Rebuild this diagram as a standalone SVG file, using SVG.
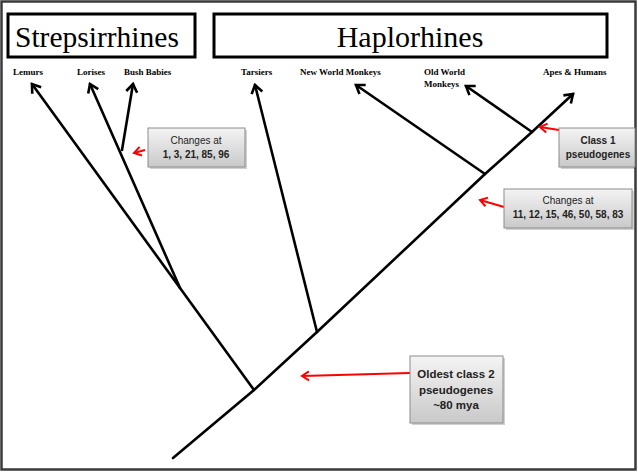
<svg xmlns="http://www.w3.org/2000/svg" width="638" height="472" viewBox="0 0 638 472">
<style>
.title{font-family:"Liberation Serif",serif;font-size:30px;fill:#000}
.leaf{font-family:"Liberation Serif",serif;font-size:9px;font-weight:bold;fill:#000}
.box{fill:none;stroke:#000;stroke-width:3}
.br{stroke:#000;stroke-width:2.6;fill:none;stroke-linecap:round}
.red{stroke:#f00;stroke-width:2;fill:none}
.cb{fill:url(#g);stroke:#8c8c8c;stroke-width:1}
.sh{fill:#000;opacity:0.18}
.ct{font-family:"Liberation Sans",Arial,sans-serif;font-size:10px;fill:#222;text-anchor:middle}
.cbold{font-weight:bold}
</style>
<defs>
<marker id="ah" markerWidth="14" markerHeight="14" refX="0" refY="0" viewBox="-10 -7 12 14" orient="auto" markerUnits="userSpaceOnUse">
<path d="M-8,-5.5 L0,0 L-8,5.5" fill="none" stroke="#000" stroke-width="2.6"/>
</marker>
<marker id="rh" markerWidth="12" markerHeight="12" refX="0" refY="0" viewBox="-9 -6 11 12" orient="auto" markerUnits="userSpaceOnUse">
<path d="M-7,-4.5 L0,0 L-7,4.5" fill="none" stroke="#f00" stroke-width="2"/>
</marker>
<linearGradient id="g" x1="0" y1="0" x2="0" y2="1">
<stop offset="0" stop-color="#f4f4f4"/>
<stop offset="1" stop-color="#c9c9c9"/>
</linearGradient>
</defs>
<rect x="0" y="0" width="638" height="472" fill="#fff"/>
<rect x="1.5" y="1.5" width="634" height="468" fill="none" stroke="#3a3a3a" stroke-width="2.5"/>

<g id="strepsirrhines">
<rect class="box" x="8" y="14" width="187" height="43"/>
<text class="title" x="15" y="47" style="font-size:29.5px">Strepsirrhines</text>
</g>
<g id="haplorhines">
<rect class="box" x="214" y="14" width="393" height="43"/>
<text class="title" x="410" y="47" text-anchor="middle">Haplorhines</text>
</g>

<g id="lemurs"><text class="leaf" x="13" y="75">Lemurs</text></g>
<g id="lorises"><text class="leaf" x="77" y="75">Lorises</text></g>
<g id="bushbabies"><text class="leaf" x="124" y="75">Bush Babies</text></g>
<g id="tarsiers"><text class="leaf" x="241" y="75">Tarsiers</text></g>
<g id="nwm"><text class="leaf" x="300" y="75">New World Monkeys</text></g>
<g id="owm"><text class="leaf" x="424" y="75">Old World</text><text class="leaf" x="424" y="87">Monkeys</text></g>
<g id="apes"><text class="leaf" x="543" y="75">Apes &amp; Humans</text></g>

<g id="connectors">
<polyline class="br" points="173,458 254,390 317,332 485,174 532,132 573,94" marker-end="url(#ah)"/>
<line class="br" x1="254" y1="390" x2="32" y2="84" marker-end="url(#ah)"/>
<line class="br" x1="180" y1="288" x2="90" y2="84" marker-end="url(#ah)"/>
<line class="br" x1="122" y1="150" x2="133" y2="84" marker-end="url(#ah)"/>
<line class="br" x1="317" y1="332" x2="255" y2="85" marker-end="url(#ah)"/>
<line class="br" x1="485" y1="174" x2="356" y2="85" marker-end="url(#ah)"/>
<line class="br" x1="532" y1="132" x2="466" y2="86" marker-end="url(#ah)"/>
<line class="red" x1="145" y1="150" x2="134" y2="153" marker-end="url(#rh)"/>
<line class="red" x1="559" y1="130" x2="540" y2="127" marker-end="url(#rh)"/>
<line class="red" x1="504" y1="207" x2="480" y2="200" marker-end="url(#rh)"/>
<line class="red" x1="410" y1="373" x2="302" y2="376" marker-end="url(#rh)"/>
</g>

<g id="callout1">
<rect class="sh" x="150" y="130" width="97" height="39"/>
<rect class="cb" x="148" y="128" width="97" height="39"/>
<text class="ct" x="196" y="144">Changes at</text>
<text class="ct cbold" x="196" y="158">1, 3, 21, 85, 96</text>
</g>
<g id="callout2">
<rect class="sh" x="561" y="130" width="74" height="39"/>
<rect class="cb" x="559" y="128" width="76" height="39"/>
<text class="ct cbold" x="598" y="144">Class 1</text>
<text class="ct cbold" x="598" y="158">pseudogenes</text>
</g>
<g id="callout3">
<rect class="sh" x="506" y="191" width="128" height="39"/>
<rect class="cb" x="504" y="189" width="128" height="39"/>
<text class="ct" x="568" y="204">Changes at</text>
<text class="ct cbold" x="568" y="218">11, 12, 15, 46, 50, 58, 83</text>
</g>
<g id="callout4">
<rect class="sh" x="412" y="358" width="93" height="67"/>
<rect class="cb" x="410" y="356" width="93" height="67"/>
<text class="ct cbold" x="456" y="378" style="font-size:11.5px">Oldest class 2</text>
<text class="ct cbold" x="456" y="394" style="font-size:11.5px">pseudogenes</text>
<text class="ct cbold" x="456" y="409" style="font-size:11.5px">~80 mya</text>
</g>
</svg>
